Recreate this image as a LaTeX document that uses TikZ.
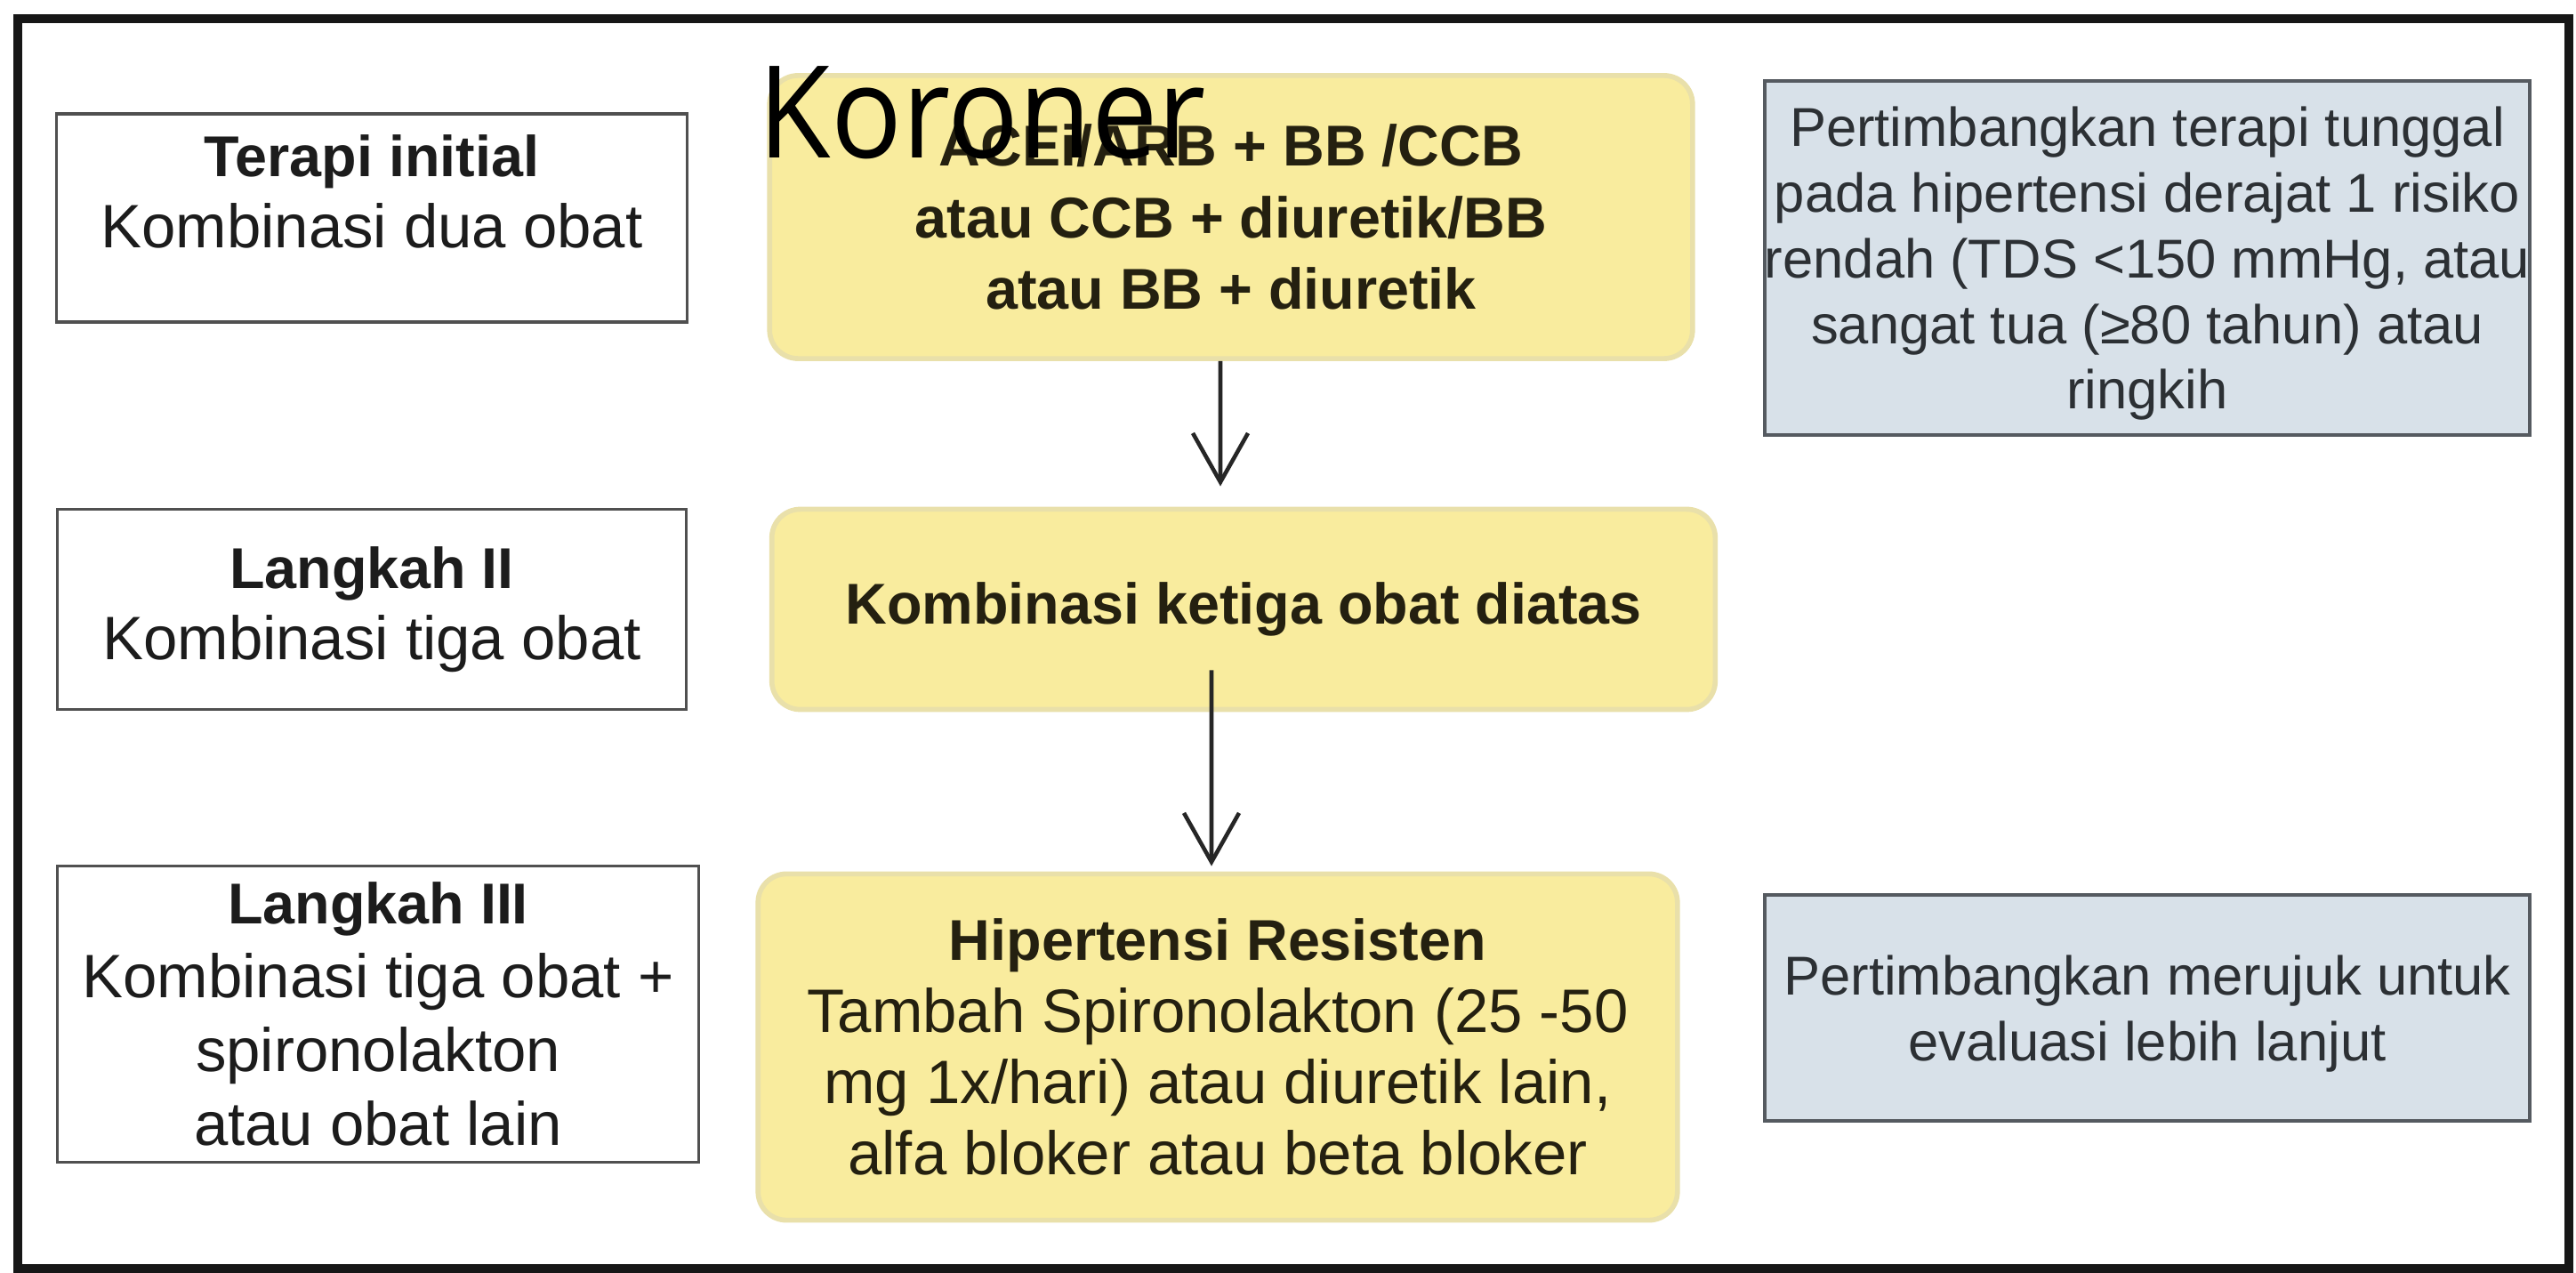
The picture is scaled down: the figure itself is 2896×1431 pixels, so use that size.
\documentclass[tikz,border=0pt]{standalone}
\usepackage{fontspec}
\setmainfont{Liberation Sans}
\newfontfamily\korfont{Open Sans}
\usetikzlibrary{arrows.meta}
\definecolor{frameC}{RGB}{22,22,22}
\definecolor{leftBorder}{RGB}{80,80,80}
\definecolor{leftText}{RGB}{28,28,28}
\definecolor{yelFill}{RGB}{249,236,158}
\definecolor{yelBorder}{RGB}{233,224,170}
\definecolor{yelText}{RGB}{36,32,16}
\definecolor{bluFill}{RGB}{216,225,233}
\definecolor{bluBorder}{RGB}{85,90,96}
\definecolor{bluText}{RGB}{44,48,52}
\newcommand{\regf}{\fontsize{19.6}{22.8}\selectfont}
\newcommand{\regwf}{\fontsize{19.6}{23.6}\selectfont}
\newcommand{\bldf}{\fontsize{18.4}{22.8}\selectfont\bfseries}
\newcommand{\bldwf}{\fontsize{18.4}{23.6}\selectfont\bfseries}
\newcommand{\smlf}{\fontsize{17.5}{21}\selectfont}
\begin{document}
\begin{tikzpicture}[x=0.01cm,y=-0.01cm,
  leftbox/.style={draw=leftBorder, line width=0.9pt, fill=white, align=center,
    text=leftText, font=\regf, inner sep=0pt},
  yelbox/.style={draw=yelBorder, line width=1.6pt, fill=yelFill, rounded corners=0.32cm,
    align=center, text=yelText, font=\regf, inner sep=0pt},
  blubox/.style={draw=bluBorder, line width=1.1pt, fill=bluFill, align=center,
    text=bluText, font=\smlf, inner sep=0pt},
  flowarrow/.style={draw=black!85, line width=1.3pt,
    -{Straight Barb[length=0.55cm, width=0.62cm, line width=1.3pt]}}
]
\useasboundingbox (0,0) rectangle (2896,1431);
\fill[white] (0,0) rectangle (2896,1431);
% outer frame
\draw[frameC, line width=2.85pt] (20,21) rectangle (2888,1426);

% left column
\node[leftbox, minimum width=7.08cm, minimum height=2.34cm, text depth=0.6cm] (l1) at (418,245)
  {{\bldf Terapi initial}\\Kombinasi dua obat};
\node[leftbox, minimum width=7.07cm, minimum height=2.25cm] (l2) at (418,685)
  {{\bldf Langkah II}\\Kombinasi tiga obat};
\node[leftbox, minimum width=7.2cm, minimum height=3.33cm, font=\regwf, text depth=0pt] (l3) at (425,1140)
  {{\bldwf Langkah III}\\Kombinasi tiga obat +\\spironolakton\\atau obat lain};

% middle column
\node[yelbox, minimum width=10.37cm, minimum height=3.18cm, font=\bldf] (m1) at (1384,244)
  {ACEi/ARB + BB /CCB\\atau CCB + diuretik/BB\\atau BB + diuretik};
\node[yelbox, minimum width=10.6cm, minimum height=2.25cm, font=\bldf] (m2) at (1398,685)
  {Kombinasi ketiga obat diatas};
\node[yelbox, minimum width=10.33cm, minimum height=3.89cm] (m3) at (1369,1177)
  {{\bldf Hipertensi Resisten}\\Tambah Spironolakton (25 -50\\mg 1x/hari) atau diuretik lain,\\alfa bloker atau beta bloker};

% right column
\node[blubox, minimum width=8.59cm, minimum height=3.97cm, text depth=0pt] (r1) at (2414,290)
  {Pertimbangkan terapi tunggal\\pada hipertensi derajat 1 risiko\\rendah (TDS <150 mmHg, atau\\sangat tua (≥80 tahun) atau\\ringkih};
\node[blubox, minimum width=8.59cm, minimum height=2.53cm, text depth=-0.08cm] (r2) at (2414,1133)
  {Pertimbangkan merujuk untuk\\evaluasi lebih lanjut};

% connectors
\draw[flowarrow, shorten >=0.23cm] ([xshift=-0.12cm]m1.south) -- ([xshift=-0.26cm]m2.north);
\draw[flowarrow, shorten >=0.06cm] ([xshift=-0.36cm,yshift=0.47cm]m2.south) -- ([xshift=-0.07cm]m3.north);

% overlay title
\node[font=\korfont\fontsize{41}{41}\selectfont, text=black, anchor=base west, inner sep=0pt] (kor) at (852,178) {\scalebox{0.92}[1]{Koroner}};
\end{tikzpicture}
\end{document}
